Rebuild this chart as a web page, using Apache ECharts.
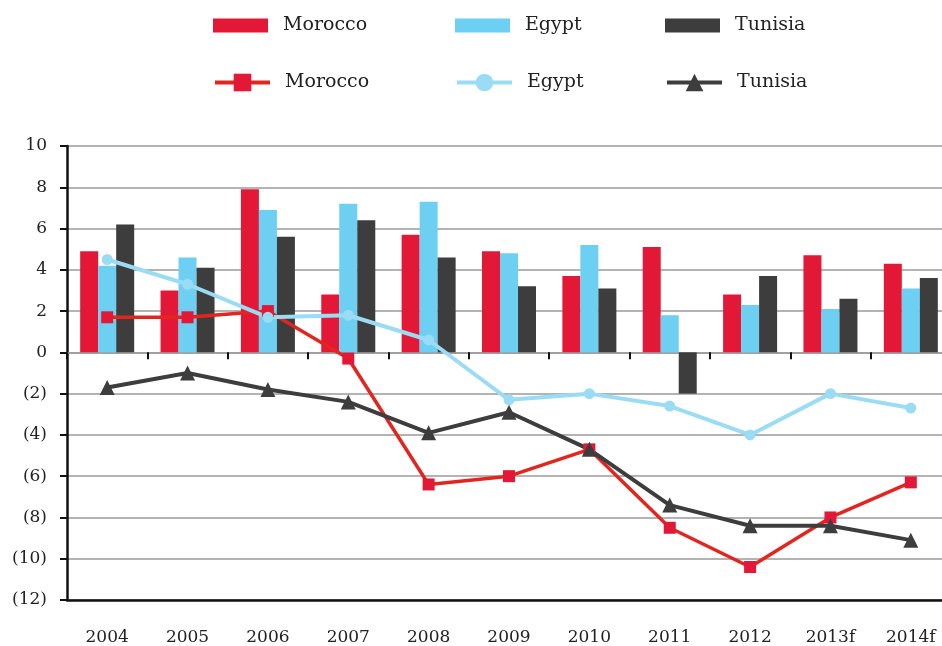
<!DOCTYPE html>
<html>
<head>
<meta charset="utf-8">
<script src="https://cdn.jsdelivr.net/npm/echarts@6/dist/echarts.min.js"></script>
<style>
  html, body { margin: 0; padding: 0; background: #fff; }
  #chart { width: 942px; height: 646px; }
</style>
</head>
<body>
<div id="chart"></div>
<script>
// data
const years = ["2004", "2005", "2006", "2007", "2008", "2009", "2010", "2011", "2012", "2013f", "2014f"];

const moroccoBar = [4.9, 3.0, 7.9, 2.8, 5.7, 4.9, 3.7, 5.1, 2.8, 4.7, 4.3];
const egyptBar   = [4.2, 4.6, 6.9, 7.2, 7.3, 4.8, 5.2, 1.8, 2.3, 2.1, 3.1];
const tunisiaBar = [6.2, 4.1, 5.6, 6.4, 4.6, 3.2, 3.1, -2.0, 3.7, 2.6, 3.6];

const moroccoLine = [1.7, 1.7, 2.0, -0.3, -6.4, -6.0, -4.7, -8.5, -10.4, -8.0, -6.3];
const egyptLine   = [4.5, 3.3, 1.7, 1.8, 0.6, -2.3, -2.0, -2.6, -4.0, -2.0, -2.7];
const tunisiaLine = [-1.7, -1.0, -1.8, -2.4, -3.9, -2.9, -4.7, -7.4, -8.4, -8.4, -9.1];

const yTicks = { min: -12, max: 10, step: 2 };

const RED = "#e31837", RED_LINE = "#e2261f";
const BLUE = "#6dcff2", BLUE_LINE = "#9bdcf5";
const DARK = "#3d3d3d";
const FONT = "DejaVu Serif";

const myChart = echarts.init(document.getElementById("chart"));

// one legend per item, so each sits where the reference has it
function legendItem(name, left, top, icon, h) {
  return {
    data: [name],
    left: left,
    top: top,
    padding: 0,
    icon: icon,
    itemWidth: 55,
    itemHeight: h,
    selectedMode: false,
    lineStyle: { width: 4 },
    formatter: n => n.replace(" (line)", ""),
    textStyle: { fontFamily: FONT, fontSize: 19, color: "#222", padding: [0, 0, 0, 10] }
  };
}

const option = {
  animation: false,
  legend: [
    legendItem("Morocco", 213, 16, "rect", 14),
    legendItem("Egypt", 455, 16, "rect", 14),
    legendItem("Tunisia", 665, 16, "rect", 14),
    legendItem("Morocco (line)", 213, 73, null, 22),
    legendItem("Egypt (line)", 455, 73, null, 22),
    legendItem("Tunisia (line)", 665, 73, null, 22)
  ],
  // the plot runs a little past the right edge of the picture
  grid: { left: 67, width: 884, top: 146, bottom: 46, outerBoundsMode: "none", containLabel: false },
  xAxis: [
    {
      type: "category",
      data: years,
      position: "bottom",
      axisLine: { onZero: false, lineStyle: { color: "#111", width: 2.5 } },
      axisTick: { show: false },
      axisLabel: { fontFamily: FONT, fontSize: 17, color: "#222", margin: 29, interval: 0 }
    },
    {
      // zero line with the category ticks
      type: "category",
      data: years,
      position: "bottom",
      axisLine: { onZero: true, lineStyle: { color: "#9a9a9a", width: 1.5 } },
      axisTick: { show: true, length: 7, interval: 0, lineStyle: { color: "#111", width: 2 } },
      axisLabel: { show: false }
    }
  ],
  yAxis: {
    type: "value",
    min: yTicks.min,
    max: yTicks.max,
    interval: yTicks.step,
    axisLine: { show: true, lineStyle: { color: "#111", width: 2.5 } },
    axisTick: { show: true, length: 7, lineStyle: { color: "#111", width: 2 } },
    splitLine: { lineStyle: { color: "#9a9a9a", width: 1.5 } },
    axisLabel: {
      fontFamily: FONT, fontSize: 17, color: "#222", margin: 20,
      formatter: v => (v < 0 ? "(" + (-v) + ")" : String(v))
    }
  },
  series: [
    { name: "Morocco", type: "bar", data: moroccoBar, barWidth: 18, barGap: 0, itemStyle: { color: RED } },
    { name: "Egypt", type: "bar", data: egyptBar, barWidth: 18, barGap: 0, itemStyle: { color: BLUE } },
    { name: "Tunisia", type: "bar", data: tunisiaBar, barWidth: 18, barGap: 0, itemStyle: { color: DARK } },
    {
      name: "Morocco (line)", type: "line", data: moroccoLine,
      symbol: "rect", symbolSize: 12,
      lineStyle: { color: RED_LINE, width: 3.5 }, itemStyle: { color: RED }
    },
    {
      name: "Egypt (line)", type: "line", data: egyptLine,
      symbol: "circle", symbolSize: 11,
      lineStyle: { color: BLUE_LINE, width: 4 }, itemStyle: { color: BLUE_LINE }
    },
    {
      name: "Tunisia (line)", type: "line", data: tunisiaLine,
      symbol: "triangle", symbolSize: 15,
      lineStyle: { color: DARK, width: 4 }, itemStyle: { color: DARK }
    }
  ]
};

myChart.setOption(option);
window.addEventListener("resize", function () {
  myChart.resize();
});
</script>
</body>
</html>
